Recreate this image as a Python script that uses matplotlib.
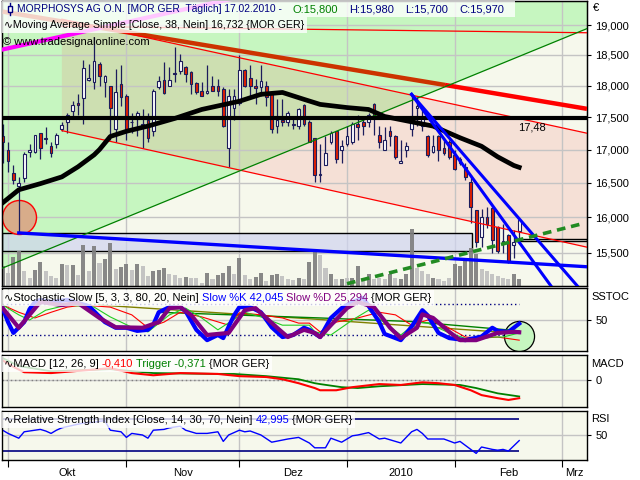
"""
    Tradesignal style daily chart of MORPHOSYS AG (MOR GER) rebuilt with matplotlib.
"""
import numpy as np
import matplotlib
matplotlib.use('Agg')
import matplotlib.pyplot as plt
from matplotlib.patches import Polygon, Rectangle
from matplotlib.lines import Line2D
from matplotlib.ticker import FixedLocator, FuncFormatter, NullLocator

plt.rcParams['font.family'] = ['Liberation Sans', 'DejaVu Sans']
plt.rcParams['font.size'] = 8

W, H = 640, 480

# daily candles, trading days 30.09.2009 .. 17.02.2010 (index 0..96), in EUR
OPEN = [17.20, 17.00, 16.65, 16.45, 16.58, 16.97, 16.97, 17.25, 17.17, 17.05,
        17.08, 17.31, 17.42, 17.59, 17.72, 17.80, 18.09, 18.05, 18.35, 18.05,
        17.99, 17.31, 18.02, 17.84, 17.43, 17.48, 17.36, 17.45, 17.28, 17.97,
        18.09, 18.00, 18.20, 18.23, 18.30, 18.22, 18.04, 17.91, 17.88, 18.00,
        18.00, 17.94, 17.02, 17.65, 17.73, 18.25, 18.12, 18.00, 17.97, 17.99,
        17.86, 17.36, 17.45, 17.42, 17.40, 17.36, 17.69, 17.42, 17.17, 16.62,
        16.77, 17.11, 17.28, 17.00, 17.08, 17.12, 17.40, 17.43, 17.42, 17.70,
        17.23, 17.00, 17.28, 17.20, 16.80, 17.00, 17.31, 17.64, 17.36, 17.20,
        16.97, 17.20, 17.03, 17.11, 16.92, 16.80, 16.74, 16.52, 16.10, 15.72,
        16.00, 16.14, 15.87, 15.64, 15.75, 15.61, 15.80]
HIGH = [17.39, 17.11, 16.77, 16.59, 16.97, 17.08, 17.23, 17.26, 17.34, 17.12,
        17.25, 17.42, 17.56, 17.76, 17.86, 18.41, 18.35, 18.80, 18.38, 18.17,
        18.00, 18.27, 18.33, 17.86, 17.57, 17.59, 17.62, 17.56, 17.94, 18.15,
        18.38, 18.30, 18.63, 18.51, 18.31, 18.23, 18.05, 18.05, 18.33, 18.15,
        18.10, 17.97, 17.94, 17.94, 18.50, 18.27, 18.33, 18.10, 18.33, 18.07,
        17.88, 17.78, 17.78, 17.59, 17.51, 17.64, 17.70, 17.46, 17.18, 17.08,
        17.20, 17.28, 17.29, 17.15, 17.36, 17.42, 17.54, 17.51, 17.57, 17.73,
        17.36, 17.34, 17.36, 17.22, 17.15, 17.11, 17.86, 17.81, 17.65, 17.22,
        17.23, 17.22, 17.17, 17.15, 17.00, 16.89, 16.80, 16.62, 16.11, 16.12,
        16.15, 16.15, 15.88, 15.90, 15.77, 15.82, 15.98]
LOW = [16.80, 16.67, 16.49, 15.78, 16.52, 16.88, 16.95, 16.85, 17.08, 16.89,
       17.03, 17.29, 17.25, 17.51, 17.54, 17.40, 18.07, 17.94, 18.00, 17.81,
       17.15, 17.12, 17.67, 17.15, 17.26, 17.20, 17.03, 17.11, 17.20, 17.94,
       17.86, 17.99, 18.05, 18.18, 18.05, 17.86, 17.86, 17.83, 17.86, 17.91,
       17.84, 17.34, 16.74, 17.46, 17.69, 17.97, 17.83, 17.70, 17.83, 17.67,
       17.26, 17.26, 17.36, 17.36, 17.31, 17.31, 17.36, 17.11, 16.51, 16.51,
       16.76, 17.09, 16.80, 16.80, 17.05, 17.08, 17.15, 17.23, 17.34, 17.23,
       17.02, 16.99, 17.05, 16.85, 16.79, 16.89, 17.20, 17.36, 17.28, 16.89,
       16.95, 16.82, 16.92, 16.86, 16.69, 16.77, 16.55, 15.92, 15.58, 15.58,
       15.85, 15.50, 15.50, 15.50, 15.36, 15.43, 15.70]
CLOSE = [17.11, 16.82, 16.55, 16.50, 16.94, 16.99, 17.22, 17.03, 17.16, 16.95,
         17.23, 17.37, 17.54, 17.69, 17.69, 18.28, 18.12, 18.40, 18.15, 18.15,
         17.64, 17.89, 17.81, 17.31, 17.42, 17.56, 17.40, 17.18, 17.91, 18.07,
         17.88, 18.09, 18.19, 18.40, 18.18, 18.02, 17.89, 17.84, 17.92, 17.92,
         17.92, 17.36, 17.84, 17.84, 18.25, 17.99, 17.99, 17.96, 18.07, 17.81,
         17.31, 17.45, 17.42, 17.57, 17.37, 17.62, 17.40, 17.12, 16.62, 16.63,
         16.95, 17.25, 16.85, 17.05, 17.20, 17.39, 17.34, 17.36, 17.54, 17.48,
         17.11, 17.15, 17.20, 16.89, 16.82, 17.05, 17.51, 17.67, 17.50, 16.92,
         17.06, 17.00, 16.95, 16.88, 16.70, 16.85, 16.59, 16.15, 15.65, 16.00,
         15.90, 15.68, 15.53, 15.67, 15.38, 15.65, 15.97]
# volume in thousand shares, and which bars are drawn dark
VOLUME = [100, 67, 145, 172, 75, 42, 80, 120, 75, 50,
          42, 108, 103, 105, 55, 205, 75, 200, 115, 135,
          215, 85, 97, 110, 80, 110, 98, 50, 75, 80,
          90, 60, 55, 40, 45, 40, 40, 15, 65, 35,
          55, 65, 100, 58, 140, 55, 35, 45, 65, 25,
          55, 60, 50, 35, 30, 40, 33, 122, 177, 155,
          90, 60, 35, 35, 40, 40, 100, 40, 60, 35,
          40, 35, 60, 40, 35, 60, 285, 90, 75, 60,
          40, 35, 25, 40, 110, 100, 140, 190, 160, 85,
          75, 60, 50, 40, 35, 60, 35]
VOL_DARK = [1, 0, 1, 1, 0, 0, 1, 1, 0, 0,
            0, 1, 0, 1, 0, 1, 0, 1, 0, 1,
            1, 0, 1, 1, 0, 1, 0, 0, 1, 1,
            1, 0, 0, 0, 1, 0, 0, 0, 1, 0,
            1, 1, 1, 0, 1, 0, 0, 1, 1, 0,
            1, 1, 0, 0, 0, 1, 0, 1, 1, 0,
            0, 1, 0, 1, 0, 1, 1, 0, 1, 0,
            0, 0, 1, 0, 1, 1, 1, 0, 0, 0,
            1, 0, 0, 0, 1, 1, 1, 1, 1, 0,
            0, 0, 0, 0, 0, 1, 1]

# simple moving average (close, 38)
MA_IDX = [0, 3, 7, 11, 14, 17, 18, 20, 23, 27, 32, 37, 44, 48, 52, 56, 59, 64, 68,
          71, 80, 85, 89, 92, 95, 96]
MA_VAL = [16.21, 16.40, 16.49, 16.59, 16.74, 16.92, 17.00, 17.20, 17.28, 17.36,
          17.48, 17.62, 17.75, 17.86, 17.89, 17.78, 17.70, 17.65, 17.62, 17.51,
          17.36, 17.18, 17.05, 16.89, 16.76, 16.732]

# stochastic slow
K_IDX = [0, 1, 2, 4, 5, 6, 7, 9, 12, 14, 16, 17, 19, 21, 23, 25, 27, 28, 29, 31,
         33, 34, 36, 38, 40, 41, 43, 44, 46, 48, 50, 52, 54, 56, 57, 59, 61, 63, 65, 67,
         70, 71, 74, 76, 78, 79, 81, 83, 86, 89, 91, 92, 94, 96]
K_VAL = [72, 45, 24, 45, 70, 84, 88, 84, 88, 82, 76, 66, 45, 34, 34, 28, 30, 40, 64, 74,
         74, 66, 30, 10, 20, 14, 58, 74, 74, 64, 35, 16, 20, 34, 30, 16, 53, 72, 84, 92,
         45, 22, 10, 36, 68, 58, 24, 14, 10, 17, 34, 28, 26, 42.045]
D_IDX = [0, 3, 7, 11, 14, 18, 21, 26, 29, 31, 33, 35, 38, 42, 45, 47, 51, 53, 56, 58,
         59, 61, 64, 66, 69, 72, 74, 77, 78, 80, 83, 85, 88, 92, 95, 96]
D_VAL = [72, 34, 84, 78, 82, 53, 35, 34, 45, 72, 74, 59, 20, 24, 68, 72, 34, 16, 30, 24,
         16, 39, 72, 84, 74, 34, 14, 34, 60, 53, 26, 10, 10, 24, 26, 25.294]
RED_IDX = [0, 3, 6, 9, 12, 15, 20, 24, 27, 30, 33, 37, 42, 44, 48, 52, 55, 57, 59, 62,
           66, 70, 73, 76, 79, 82, 86, 89, 92, 96]
RED_VAL = [78, 64, 53, 64, 74, 78, 74, 59, 34, 45, 64, 55, 39, 63, 59, 53, 43, 43, 26, 45,
           53, 64, 59, 39, 49, 39, 16, 14, 16, 10]
LGR_IDX = [0, 3, 5, 8, 12, 17, 20, 24, 27, 31, 34, 37, 40, 45, 48, 52, 57, 58, 61, 65,
           68, 71, 74, 77, 79, 83, 87, 91, 93, 96]
LGR_VAL = [78, 59, 49, 68, 78, 74, 55, 35, 26, 59, 72, 53, 30, 64, 55, 39, 39, 26, 20, 49,
           68, 43, 20, 45, 43, 24, 10, 16, 16, 24]
OLV_IDX = [18, 59, 96]
OLV_VAL = [78, 50, 23]
DGR_IDX = [29, 59, 76, 96]
DGR_VAL = [64, 53, 46, 28]

# MACD 12/26/9
MACD_IDX = [0, 2, 4, 9, 16, 20, 24, 28, 33, 40, 44, 49, 52, 55, 58, 59, 62, 65, 70, 74,
            78, 81, 84, 87, 89, 92, 94, 96]
MACD_VAL = [0.45, 0.30, 0.18, 0.16, 0.23, 0.27, 0.16, 0.11, 0.16, 0.14, 0.09, 0.07, 0.02,
            -0.07, -0.18, -0.23, -0.23, -0.16, -0.09, -0.11, -0.05, -0.07, -0.11, -0.23,
            -0.34, -0.41, -0.45, -0.410]
TRIG_IDX = [0, 3, 9, 20, 28, 40, 43, 49, 55, 58, 59, 63, 66, 70, 78, 85, 88, 92, 96]
TRIG_VAL = [0.50, 0.32, 0.20, 0.25, 0.16, 0.14, 0.14, 0.09, 0.02, -0.07, -0.09, -0.16,
            -0.18, -0.14, -0.09, -0.11, -0.18, -0.30, -0.371]

# RSI 14
RSI_IDX = [0, 1, 3, 4, 6, 7, 8, 9, 10, 11, 13, 15, 17, 19, 20, 22, 23, 24, 26, 27,
           28, 30, 31, 33, 34, 36, 38, 40, 41, 42, 44, 45, 46, 48, 50, 53, 55, 57, 58, 60,
           61, 63, 65, 66, 68, 70, 71, 74, 76, 77, 78, 79, 82, 84, 85, 88, 89, 91, 92, 93,
           94, 96]
RSI_VAL = [56, 52, 46, 54, 56, 57, 55, 52, 56, 59, 62, 65, 66, 68, 56, 54, 47, 52, 50, 46,
           56, 57, 59, 61, 56, 52, 52, 54, 42, 50, 56, 54, 55, 50, 41, 45, 47, 40, 34, 34,
           46, 41, 49, 50, 53, 45, 46, 40, 54, 57, 52, 45, 45, 40, 42, 27, 35, 32, 31, 32,
           30, 42.995]

# drawing tools (index, price)
RESIST_THICK = ([0, 82.2, 108.6], [19.23, 18.01, 17.63])
MAGENTA_UP = ([0, 42.6], [18.59, 19.45])
RED_TOP = ([11, 108.6], [18.98, 18.87])
CHAN_UP = ([11, 108.6], [19.10, 17.25])
CHAN_LOW = ([11, 108.6], [17.29, 15.58])
GREEN_UP = ([-0.1, 108.6], [15.29, 18.94])
SUPPORT = ([3, 108.6], [15.78, 15.31])
DOWN_A = ([76, 101.9], [17.86, 15.05])
DOWN_B = ([76, 106.8], [17.86, 15.05])
DASH_UP = ([64, 107.7], [15.08, 15.91])
HLINE = 17.48
BOX_1 = (-0.1, 87.3, 15.53, 15.78)
BOX_2 = (95.2, 108.6, 15.66, 15.70)

PRICE_TICKS = [15.5, 16.0, 16.5, 17.0, 17.5, 18.0, 18.5, 19.0]
MONTH_START = [1, 23, 44, 64, 84, 104]
MONTH_LABELS = ['Okt', 'Nov', 'Dez', '2010', 'Feb', 'Mrz']

X0, X1 = -0.12, 108.6
BG = '#f6f8ec'
GRID = '#c4c4c4'
NAVY = '#000080'
WICK = '#1c1c5c'


def dec(v, n=3):
    return f'{v:.{n}f}'.replace('.', ',')


def rect(l, t, r, b):
    return [l / W, 1 - b / H, (r - l) / W, (b - t) / H]


def line_at(line, x):
    xs, ps = line
    t = (x - xs[0]) / (xs[-1] - xs[0])
    return float(np.exp(np.log(ps[0]) + t * (np.log(ps[-1]) - np.log(ps[0]))))


def crossing(l1, l2):
    def coef(line):
        xs, ps = line
        m = (np.log(ps[-1]) - np.log(ps[0])) / (xs[-1] - xs[0])
        return m, np.log(ps[0]) - m * xs[0]
    m1, c1 = coef(l1)
    m2, c2 = coef(l2)
    x = (c2 - c1) / (m1 - m2)
    return x, float(np.exp(m1 * x + c1))


def put_label(fig, x, y, parts, box_left=2, box=True, gap=3, size=8):
    """Writes a row of coloured text pieces, with a faded white box behind."""
    r = fig.canvas.get_renderer()
    start = x
    for txt, col in parts:
        t = fig.text(x / W, 1 - y / H, txt, color=col, va='center', ha='left',
                     zorder=6, fontsize=size)
        x += t.get_window_extent(r).width + gap
        size = 8
    if box:
        fig.add_artist(Rectangle((box_left / W, 1 - (y + 8) / H), (x - box_left) / W, 16 / H,
                                 transform=fig.transFigure, facecolor='white', alpha=0.78,
                                 edgecolor='none', zorder=5))
    return x - start


def style_panel(ax, ylim, yticks, ylabels=None):
    ax.set_xlim(X0, X1)
    ax.set_ylim(*ylim)
    ax.set_facecolor(BG)
    ax.yaxis.tick_right()
    ax.set_yticks(yticks)
    if ylabels is not None:
        ax.set_yticklabels(ylabels)
    ax.tick_params(axis='y', direction='out', length=3, pad=3, labelsize=8)
    ax.tick_params(axis='x', length=0, labelbottom=False)
    for x in MONTH_START:
        ax.axvline(x, color=GRID, lw=1, zorder=0.5)
    for s in ax.spines.values():
        s.set_linewidth(1)


def main():
    fig = plt.figure(figsize=(6.4, 4.8), dpi=100)
    idx = np.arange(len(CLOSE))

    # ---------- price panel: background layer, volume layer, price layer
    ax_bg = fig.add_axes(rect(2, 1, 587, 286))
    ax_bg.set_yscale('log')
    ax_bg.set_xlim(X0, X1)
    ax_bg.set_ylim(15.049, 19.413)
    ax_bg.set_facecolor(BG)
    ax_bg.set_xticks([])
    ax_bg.yaxis.set_major_locator(NullLocator())
    ax_bg.yaxis.set_minor_locator(NullLocator())
    y_top = ax_bg.get_ylim()[1]

    green_poly = [(X0, line_at(GREEN_UP, X0)), (X1, line_at(GREEN_UP, X1)), (X1, y_top), (X0, y_top)]
    ax_bg.add_patch(Polygon(green_poly, closed=True, facecolor='#c6f6c0', edgecolor='none', zorder=1))
    p_up = crossing(CHAN_UP, GREEN_UP)
    p_low = crossing(CHAN_LOW, GREEN_UP)
    olive = [(CHAN_UP[0][0], CHAN_UP[1][0]), p_up, p_low, (CHAN_LOW[0][0], CHAN_LOW[1][0])]
    ax_bg.add_patch(Polygon(olive, closed=True, facecolor='#cddfb1', edgecolor='none', zorder=1.1))
    pink = [p_up, (X1, line_at(CHAN_UP, X1)), (X1, line_at(CHAN_LOW, X1)), p_low]
    ax_bg.add_patch(Polygon(pink, closed=True, facecolor='#f5e0d6', edgecolor='none', zorder=1.1))
    for p in PRICE_TICKS:
        ax_bg.axhline(p, color=GRID, lw=1, zorder=1.5)
    for x in MONTH_START:
        ax_bg.axvline(x, color=GRID, lw=1, zorder=1.5)
    b1x0, b1x1, b1y0, b1y1 = BOX_1
    ax_bg.add_patch(Rectangle((b1x0, b1y0), b1x1 - b1x0, b1y1 - b1y0, facecolor='#d0d4f0',
                              alpha=0.7, edgecolor='none', zorder=2))
    ax_bg.add_patch(Rectangle((b1x0, b1y0), b1x1 - b1x0, b1y1 - b1y0, fill=False,
                              edgecolor='black', lw=1, zorder=2.1))
    b2x0, b2x1, b2y0, b2y1 = BOX_2
    ax_bg.add_patch(Rectangle((b2x0, b2y0), b2x1 - b2x0, b2y1 - b2y0, facecolor='#fbfbf5',
                              edgecolor='black', lw=1, zorder=2.1))

    ax_vol = fig.add_axes(rect(2, 1, 587, 286), sharex=ax_bg)
    ax_vol.patch.set_visible(False)
    ax_vol.set_ylim(0, 1420)
    ax_vol.axis('off')
    vcol = ['#7f7f7f' if d else '#c0c0c0' for d in VOL_DARK]
    ax_vol.bar(idx, VOLUME, width=0.75, color=vcol, alpha=0.92, lw=0)

    ax = fig.add_axes(rect(2, 1, 587, 286), sharex=ax_bg)
    ax.patch.set_visible(False)
    ax.set_yscale('log')
    ax.set_ylim(ax_bg.get_ylim())
    ax.set_xlim(X0, X1)
    ax.yaxis.tick_right()
    ax.yaxis.set_major_locator(FixedLocator(PRICE_TICKS))
    ax.yaxis.set_minor_locator(NullLocator())
    ax.yaxis.set_major_formatter(FuncFormatter(lambda v, p: dec(v)))
    ax.tick_params(axis='y', direction='out', length=3, pad=3, labelsize=8)
    ax.tick_params(axis='x', length=0, labelbottom=False)
    for s in ax.spines.values():
        s.set_linewidth(1)

    # candles
    op, cl = np.array(OPEN), np.array(CLOSE)
    up = cl >= op
    ax.scatter([idx[3]], [16.0], s=600, facecolor='#d8ac8a', edgecolor='red', lw=1, zorder=1.5)
    ax.vlines(idx, LOW, HIGH, color=WICK, lw=0.9, zorder=2)
    ax.bar(idx, np.abs(cl - op), bottom=np.minimum(op, cl), width=0.5,
           color=np.where(up, 'white', '#e02000'), edgecolor=WICK, lw=0.8, zorder=2.1)

    # drawing tools
    ax.plot(RESIST_THICK[0][:2], RESIST_THICK[1][:2], color='#cc3300', lw=3.2, zorder=3, solid_capstyle='butt')
    ax.plot(RESIST_THICK[0][1:], RESIST_THICK[1][1:], color='#ff0000', lw=3.2, zorder=3, solid_capstyle='butt')
    ax.plot(*MAGENTA_UP, color='#ff00ff', lw=3, zorder=3)
    for ln in (RED_TOP, CHAN_UP, CHAN_LOW):
        ax.plot(*ln, color='#ff0000', lw=0.9, zorder=3)
    ax.plot(*GREEN_UP, color='#008000', lw=0.9, zorder=3)
    ax.plot(MA_IDX, MA_VAL, color='black', lw=3.4, zorder=3.2)
    ax.axhline(HLINE, color='black', lw=3, zorder=3.3)
    ax.annotate(dec(HLINE, 2), xy=(98.4, HLINE), xytext=(0, -3), textcoords='offset points',
                ha='center', va='top', fontsize=8, zorder=4)
    ax.plot(*SUPPORT, color='#0000ff', lw=2.4, zorder=3.4)
    ax.plot(*DOWN_A, color='#0000ff', lw=2.2, zorder=3.4)
    ax.plot(*DOWN_B, color='#0000ff', lw=2.2, zorder=3.4)
    ax.plot(*DASH_UP, color='#228b22', lw=2.6, ls=(0, (2.4, 1.6)), zorder=3.5)

    # ---------- stochastic
    ax_st = fig.add_axes(rect(2, 288, 587, 351))
    style_panel(ax_st, (-11, 111), [50], ['50'])
    ax_st.axhline(50, color=GRID, lw=1, zorder=0.5)
    ax_st.hlines([80, 20], X0, idx[-1], colors=NAVY, linestyles=(0, (1, 2)), lw=1, zorder=1)
    ax_st.scatter([idx[-1]], [18], s=470, facecolor='#c6f6c0', edgecolor='black', lw=0.9, zorder=1.5)
    ax_st.plot(OLV_IDX, OLV_VAL, color='#808000', lw=1, zorder=2)
    ax_st.plot(DGR_IDX, DGR_VAL, color='#008000', lw=1, zorder=2)
    ax_st.plot(RED_IDX, RED_VAL, color='#ff0000', lw=0.8, zorder=2)
    ax_st.plot(LGR_IDX, LGR_VAL, color='#22cc22', lw=0.8, zorder=2)
    ax_st.plot(K_IDX, K_VAL, color='#0000ff', lw=3, zorder=3)
    ax_st.plot(D_IDX, D_VAL, color='#800080', lw=3, zorder=3.1)

    # ---------- MACD
    ax_m = fig.add_axes(rect(2, 355, 587, 407))
    style_panel(ax_m, (-0.61, 0.57), [0], ['0'])
    ax_m.axhline(0, color=GRID, lw=1, zorder=0.5)
    ax_m.hlines(0, X0, idx[-1], colors='#808080', linestyles=(0, (1, 2)), lw=1, zorder=1)
    ax_m.plot(TRIG_IDX, TRIG_VAL, color='#008000', lw=1.3, zorder=2)
    ax_m.plot(MACD_IDX, MACD_VAL, color='#ff0000', lw=1.5, zorder=2.1)

    # ---------- RSI
    ax_r = fig.add_axes(rect(2, 411, 587, 460))
    style_panel(ax_r, (18.75, 80), [50], ['50'])
    ax_r.axhline(50, color=GRID, lw=1, zorder=0.5)
    ax_r.hlines([70, 30], X0, idx[-1], colors=NAVY, lw=1.2, zorder=1)
    ax_r.plot(RSI_IDX, RSI_VAL, color='#0000ff', lw=1, zorder=2)
    ax_r.set_xticks(MONTH_START)
    ax_r.set_xticklabels([''] * len(MONTH_START))
    bounds = MONTH_START + [X1]
    ax_r.set_xticks([(a + b) / 2 for a, b in zip(bounds[:-1], bounds[1:])], minor=True)
    ax_r.set_xticklabels(MONTH_LABELS, minor=True)
    ax_r.tick_params(axis='x', which='major', length=5, direction='out', labelbottom=True)
    ax_r.tick_params(axis='x', which='minor', length=0, pad=5.5, labelsize=8, labelbottom=True)

    # ---------- texts
    fig.text(593 / W, 1 - 8 / H, '€', va='center', ha='left')
    fig.text(591 / W, 1 - 297 / H, 'SSTOC', va='center', ha='left')
    fig.text(591 / W, 1 - 364 / H, 'MACD', va='center', ha='left')
    fig.text(591 / W, 1 - 419 / H, 'RSI', va='center', ha='left')

    put_label(fig, 17, 9, [
        ('MORPHOSYS AG O.N. [MOR GER  Täglich] 17.02.2010 -', NAVY),
        ('O:' + dec(OPEN[-1]), '#008000'),
        ('H:' + dec(HIGH[-1]), NAVY),
        ('L:' + dec(LOW[-1]), NAVY),
        ('C:' + dec(CLOSE[-1]), NAVY)], gap=11, size=7.4)
    fig.add_artist(Line2D([10 / W, 10 / W], [1 - 3 / H, 1 - 15 / H], color=NAVY, lw=1,
                          transform=fig.transFigure, zorder=6))
    fig.add_artist(Rectangle((8 / W, 1 - 12 / H), 4 / W, 6 / H, facecolor='white',
                             edgecolor=NAVY, lw=1, transform=fig.transFigure, zorder=6.1))
    put_label(fig, 4, 25, [('∿Moving Average Simple [Close, 38, Nein] ' + dec(MA_VAL[-1])
                            + ' {MOR GER}', 'black')], size=7.7)
    fig.text(3 / W, 1 - 42 / H, '© www.tradesignalonline.com', va='center', ha='left', zorder=6)

    put_label(fig, 4, 298, [('∿Stochastic Slow [5, 3, 3, 80, 20, Nein]', 'black'),
                            ('Slow %K ' + dec(K_VAL[-1]), '#0000ff'),
                            ('Slow %D ' + dec(D_VAL[-1]), '#800080'),
                            ('{MOR GER}', 'black')])
    put_label(fig, 4, 364, [('∿MACD [12, 26, 9]', 'black'),
                            (dec(MACD_VAL[-1]), '#ff0000'),
                            ('Trigger ' + dec(TRIG_VAL[-1]), '#008000'),
                            ('{MOR GER}', 'black')])
    put_label(fig, 4, 420, [('∿Relative Strength Index [Close, 14, 30, 70, Nein]', 'black'),
                            (dec(RSI_VAL[-1]), '#0000ff'),
                            ('{MOR GER}', 'black')])

    fig.savefig('out.png', dpi=100)


if __name__ == '__main__':
    main()
